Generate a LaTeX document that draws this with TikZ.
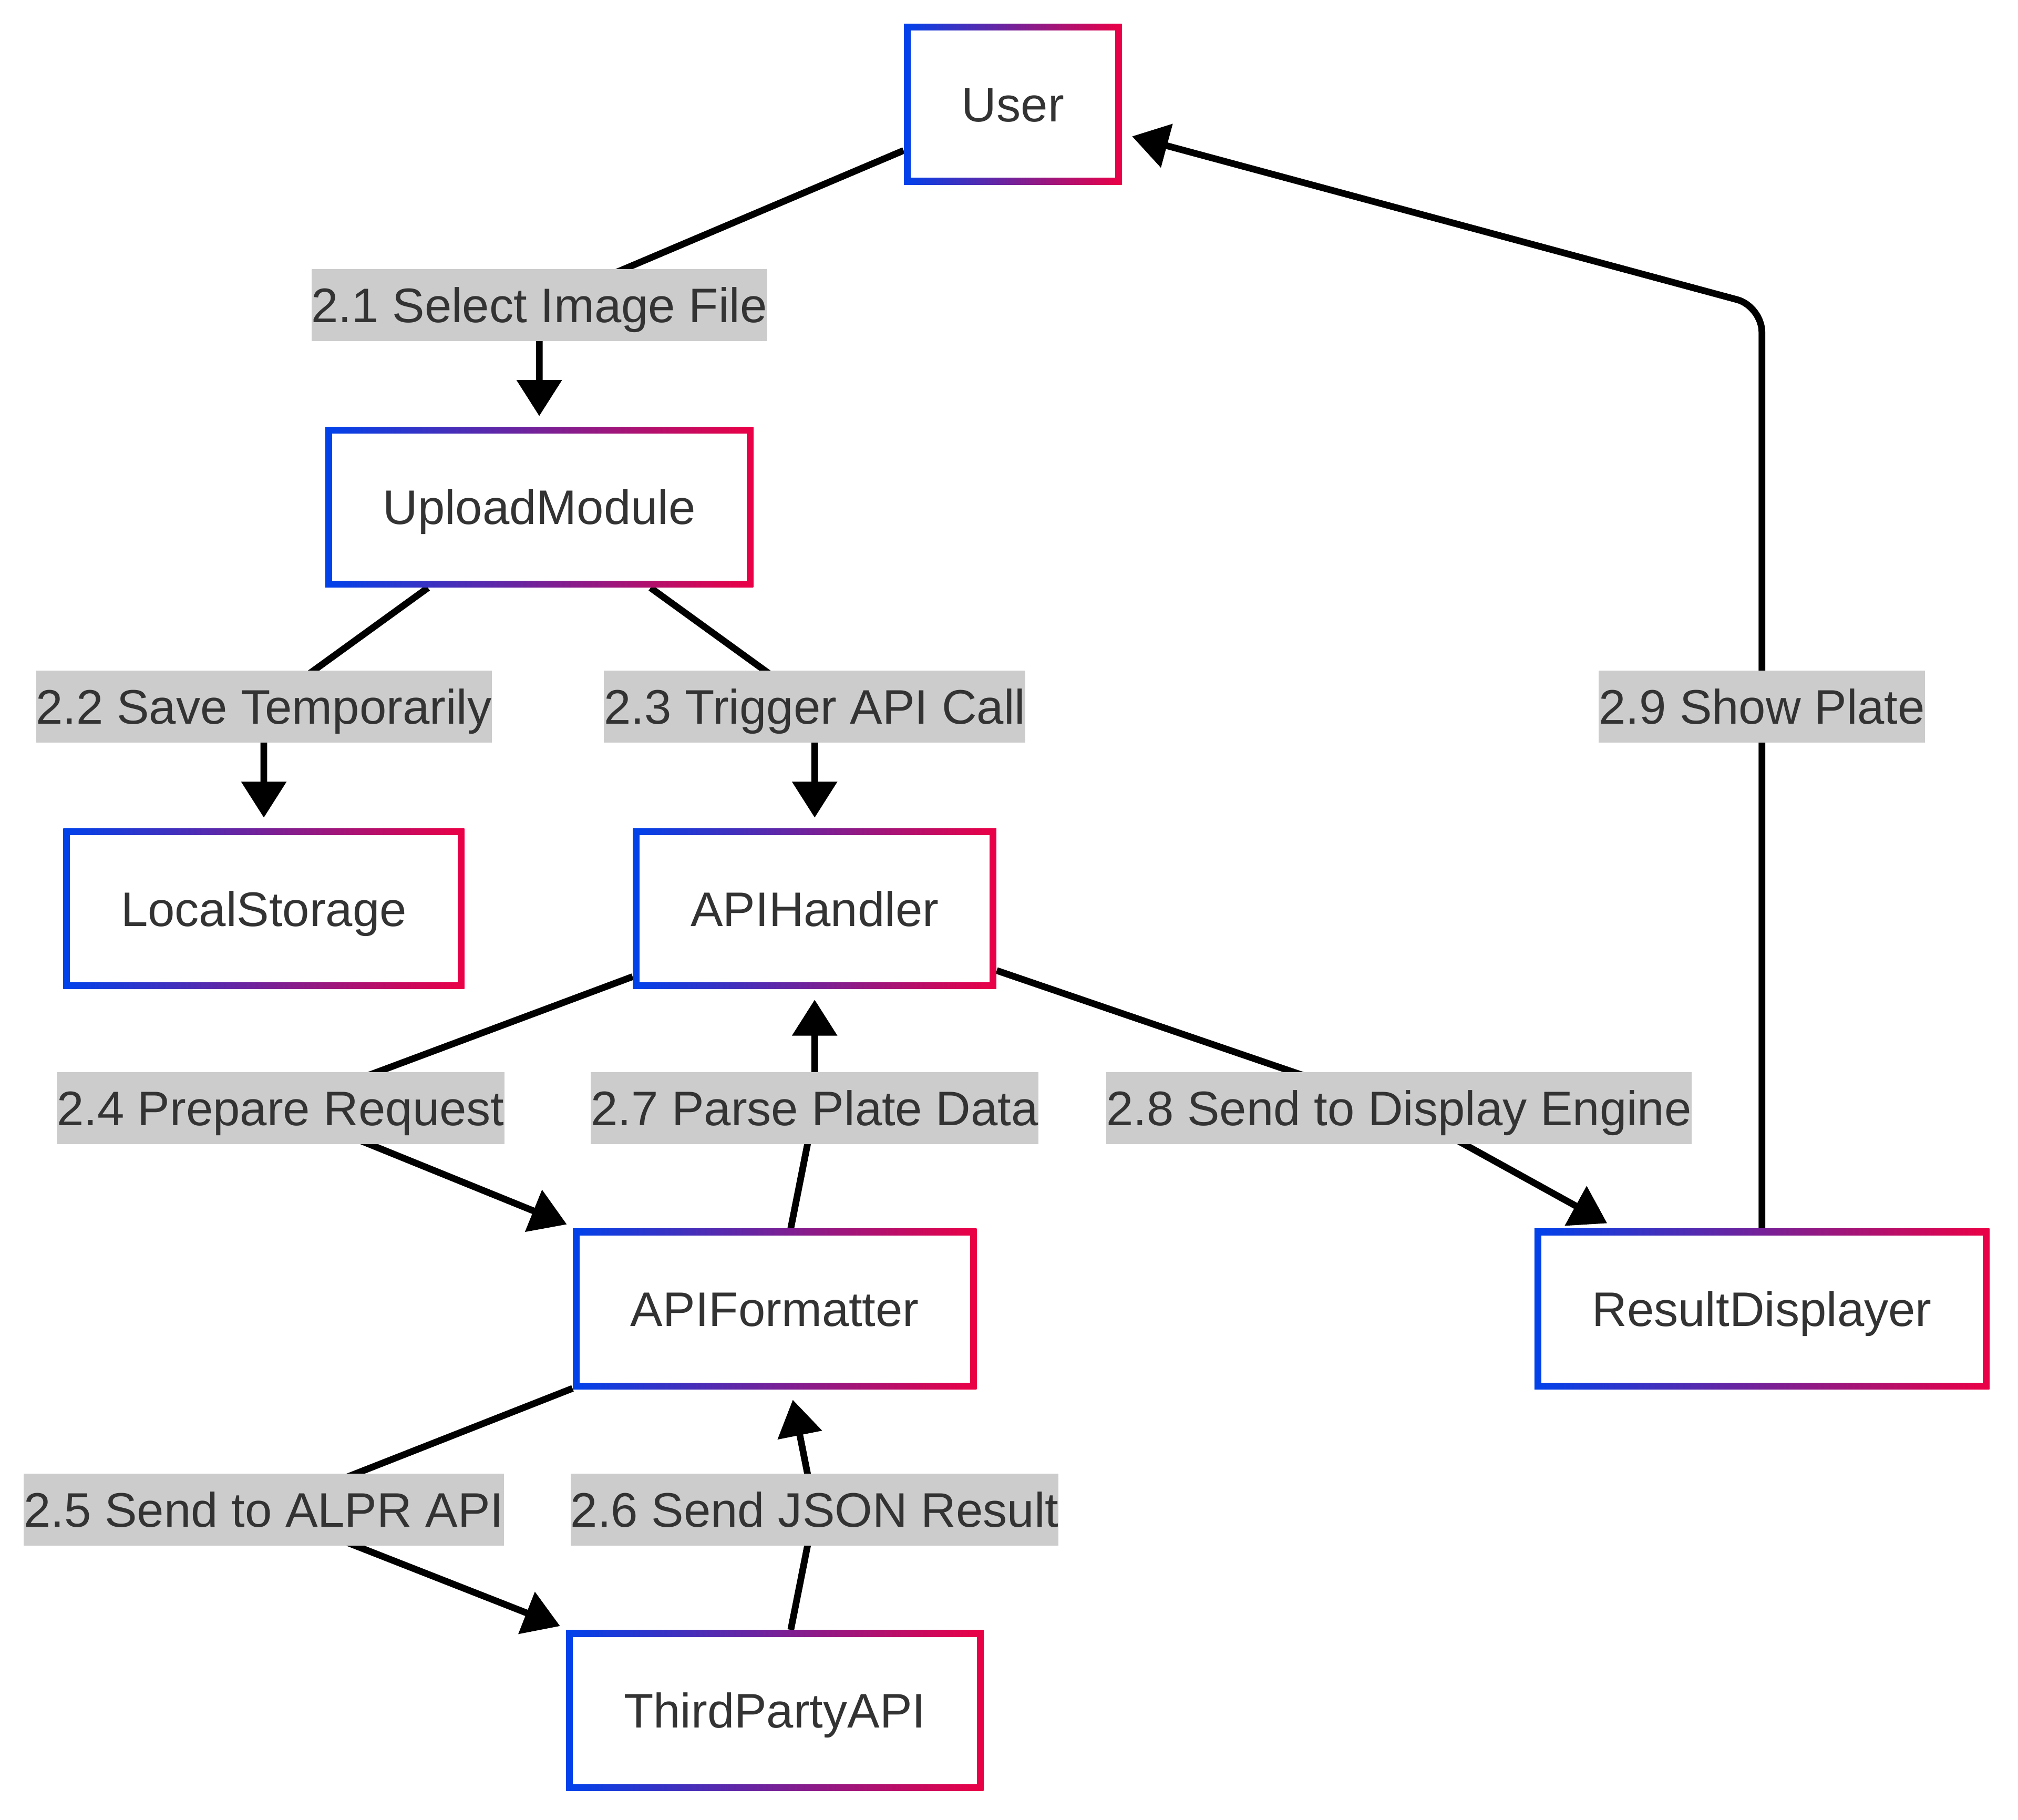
\documentclass[tikz,border=0pt]{standalone}
\usepackage{fontspec}
\setmainfont{Liberation Sans}
\usepackage{tikz}
\usetikzlibrary{arrows.meta, backgrounds}
\definecolor{gBlue}{HTML}{0042EB}
\definecolor{gRed}{HTML}{EB0045}
\definecolor{ink}{HTML}{333333}
\definecolor{tagGray}{HTML}{CCCCCC}

\begin{document}
\begin{tikzpicture}[x=0.025cm, y=-0.025cm,
  box/.style={font=\fontsize{26.8}{32}\selectfont, text=ink, minimum height=3.12cm,
    inner xsep=1.12cm, text height=24.1pt, text depth=4.9pt,
    path picture={
      \shade[left color=gBlue, right color=gRed] (path picture bounding box.south west) rectangle (path picture bounding box.north east);
      \fill[white] ([shift={(0.13cm,0.13cm)}]path picture bounding box.south west) rectangle ([shift={(-0.13cm,-0.13cm)}]path picture bounding box.north east);
    }},
  tag/.style={fill=tagGray, font=\fontsize{26.8}{32}\selectfont, text=ink, inner sep=0pt,
    minimum height=1.4cm, text height=24.1pt, text depth=4.9pt},
  flow/.style={line width=0.13cm, line join=round, shorten >=0.2cm,
    -{Triangle[length=0.7cm, width=0.85cm]}}]
  \useasboundingbox (0,0) rectangle (1568,1414);
  \node[box] (user)       at (787,81)    {User};
  \node[box] (upload)     at (419,394)   {UploadModule};
  \node[box] (local)      at (205,706)   {LocalStorage};
  \node[box] (handler)    at (633,706)   {APIHandler};
  \node[box] (formatter)  at (602,1017)  {APIFormatter};
  \node[box] (resdisp)    at (1369,1017) {ResultDisplayer};
  \node[box] (thirdparty) at (602,1329)  {ThirdPartyAPI};
  \node[tag] (l21) at (419,237)  {2.1 Select Image File};
  \node[tag] (l22) at (205,549)  {2.2 Save Temporarily};
  \node[tag] (l23) at (633,549)  {2.3 Trigger API Call};
  \node[tag] (l24) at (218,861)  {2.4 Prepare Request};
  \node[tag] (l27) at (633,861)  {2.7 Parse Plate Data};
  \node[tag] (l28) at (1087,861) {2.8 Send to Display Engine};
  \node[tag] (l25) at (205,1173) {2.5 Send to ALPR API};
  \node[tag] (l26) at (633,1173) {2.6 Send JSON Result};
  \node[tag] (l29) at (1369,549) {2.9 Show Plate};
  \coordinate (c29) at (1369,238);
  \begin{scope}[on background layer]
    \draw[flow] (user) -- (l21.center) -- (upload);
    \draw[flow] (upload) -- (l22.center) -- (local);
    \draw[flow] (upload) -- (l23.center) -- (handler);
    \draw[flow] (handler) -- (l24.center) -- (formatter);
    \draw[flow] (formatter) -- (l25.center) -- (thirdparty);
    \draw[flow] (thirdparty) -- (l26.center) -- (formatter);
    \draw[flow] (formatter) -- (l27.center) -- (handler);
    \draw[flow] (handler) -- (l28.center) -- (resdisp);
    \draw[flow, rounded corners=0.5cm] (resdisp) -- (l29.center) -- (c29) -- (user);
  \end{scope}
\end{tikzpicture}
\end{document}
